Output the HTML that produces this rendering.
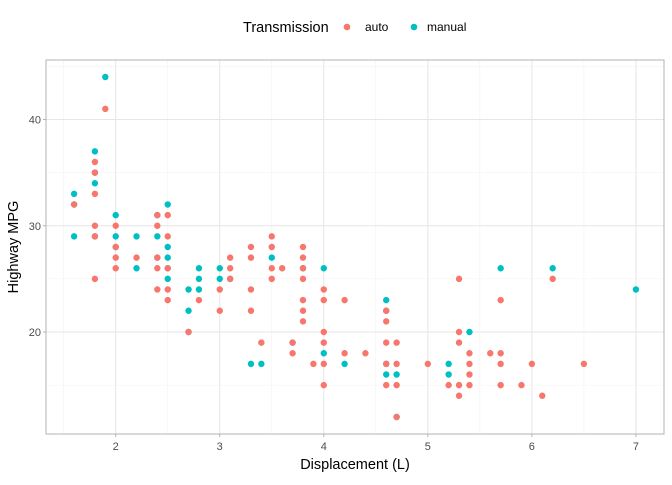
<!DOCTYPE html>
<html><head><meta charset="utf-8"><style>
body{margin:0;background:#fff;font-family:"Liberation Sans",sans-serif}
svg text{font-family:"Liberation Sans",sans-serif}
</style></head><body>
<svg id="chart" width="672" height="480" xmlns="http://www.w3.org/2000/svg">
<rect width="672" height="480" fill="#fff"/>
<g id="grid"></g>
<g id="pts"></g>
<rect x="46" y="60" width="618" height="374" fill="none" stroke="#b3b3b3" stroke-width="1"/>
<g id="axes"></g>
<text x="355" y="469" text-anchor="middle" font-size="14.5" fill="#000">Displacement (L)</text>
<text transform="translate(18,247) rotate(-90)" text-anchor="middle" font-size="14.5" fill="#000">Highway MPG</text>
<g>
<text x="243" y="32" font-size="14.5" fill="#000">Transmission</text>
<circle cx="347" cy="27" r="3.3" fill="#F8766D"/>
<text x="365" y="31" font-size="12" fill="#000">auto</text>
<circle cx="414" cy="27" r="3.3" fill="#00BFC4"/>
<text x="427" y="31" font-size="12" fill="#000">manual</text>
</g>
</svg>
<script>
const autoDispl = [1.9,1.8,1.8,1.8,1.8,1.8,1.8,1.6,2.0,2.0,2.0,2.0,2.2,2.4,2.4,2.4,2.4,2.4,2.5,2.5,2.5,2.5,2.5,2.7,2.8,3.0,3.0,3.1,3.1,3.1,3.3,3.3,3.3,3.3,3.4,3.5,3.5,3.5,3.5,3.6,3.7,3.7,3.8,3.8,3.8,3.8,3.8,3.8,3.8,3.9,4.0,4.0,4.0,4.0,4.0,4.0,4.2,4.2,4.4,4.6,4.6,4.6,4.6,4.6,4.7,4.7,4.7,4.7,5.0,5.2,5.3,5.3,5.3,5.3,5.3,5.4,5.4,5.4,5.4,5.6,5.7,5.7,5.7,5.7,5.9,6.0,6.1,6.2,6.5];
const autoHwy   = [41,36,35,33,30,29,25,32,30,28,27,26,27,31,30,27,26,24,31,29,26,24,23,20,23,24,22,27,26,25,28,27,24,22,19,29,28,26,25,26,19,18,28,27,26,25,23,22,21,17,24,23,20,19,17,15,23,18,18,22,21,19,17,15,19,17,15,12,17,15,25,20,19,15,14,18,17,16,15,18,23,18,17,15,15,17,14,25,17];
const manualDispl = [1.9,1.8,1.8,1.8,1.8,1.6,1.6,1.6,2.0,2.0,2.0,2.2,2.2,2.4,2.4,2.4,2.5,2.5,2.5,2.5,2.5,2.7,2.7,2.7,2.8,2.8,2.8,3.0,3.0,3.1,3.3,3.4,3.5,3.7,3.8,4.0,4.0,4.2,4.6,4.6,4.6,4.6,4.7,4.7,5.2,5.2,5.4,5.7,6.2,7.0];
const manualHwy   = [44,37,35,34,29,33,32,29,31,29,28,29,26,31,29,27,32,28,27,26,25,24,22,20,26,25,24,26,25,25,17,17,27,19,26,26,18,17,23,22,17,16,16,12,17,16,20,26,26,24];
const xTicks = [2,3,4,5,6,7];
const yTicks = [20,30,40];
const X0=46,X1=664,Y0=434,Y1=60,XMIN=1.33,XMAX=7.27,YMIN=10.4,YMAX=45.6;
function sx(v){return X0+(v-XMIN)/(XMAX-XMIN)*(X1-X0);}
function sy(v){return Y0-(v-YMIN)/(YMAX-YMIN)*(Y0-Y1);}
const NS="http://www.w3.org/2000/svg";
const grid=document.getElementById('grid'),axes=document.getElementById('axes'),pts=document.getElementById('pts');
function ln(p,x1,y1,x2,y2,c,w,name){const l=document.createElementNS(NS,'line');l.setAttribute('x1',x1);l.setAttribute('y1',y1);l.setAttribute('x2',x2);l.setAttribute('y2',y2);l.setAttribute('stroke',c);l.setAttribute('stroke-width',w);


p.appendChild(l);}
for(let i=0;i<xTicks.length;i++){const m=xTicks[i]-0.5;ln(grid,sx(m),Y1,sx(m),Y0,'#f2f2f2',0.6,'x-minor-gridline');}
for(const v of [15,25,35,45]) ln(grid,X0,sy(v),X1,sy(v),'#f2f2f2',0.6,'y-minor-gridline');
for(const v of xTicks){ln(grid,sx(v),Y1,sx(v),Y0,'#e6e6e6',1,'x-major-gridline');
ln(axes,sx(v),Y0,sx(v),Y0+3,'#b3b3b3',1,'x-tick');
const t=document.createElementNS(NS,'text');t.setAttribute('x',sx(v));t.setAttribute('y',Y0+16);t.setAttribute('text-anchor','middle');t.setAttribute('font-size','11');t.setAttribute('fill','#4d4d4d');t.textContent=v;


axes.appendChild(t);}
for(const v of yTicks){ln(grid,X0,sy(v),X1,sy(v),'#e6e6e6',1,'y-major-gridline');
ln(axes,X0-3,sy(v),X0,sy(v),'#b3b3b3',1,'y-tick');
const t=document.createElementNS(NS,'text');t.setAttribute('x',X0-5);t.setAttribute('y',sy(v)+4);t.setAttribute('text-anchor','end');t.setAttribute('font-size','11');t.setAttribute('fill','#4d4d4d');t.textContent=v;


axes.appendChild(t);}
function draw(xs,ys,col,name){for(let i=0;i<xs.length;i++){const c=document.createElementNS(NS,'circle');c.setAttribute('cx',sx(xs[i]));c.setAttribute('cy',sy(ys[i]));c.setAttribute('r',3.2);c.setAttribute('fill',col);


pts.appendChild(c);}}
draw(manualDispl,manualHwy,'#00BFC4','point-manual');
draw(autoDispl,autoHwy,'#F8766D','point-auto');
</script>
</body></html>
